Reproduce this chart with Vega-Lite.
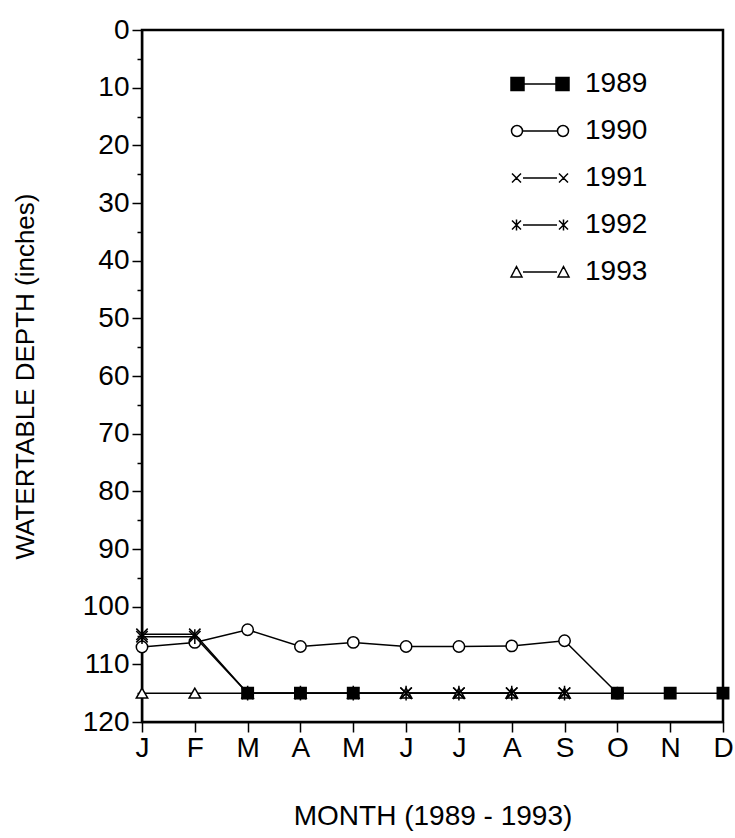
{
  "$schema": "https://vega.github.io/schema/vega-lite/v6.json",
  "width": 581,
  "height": 692,
  "autosize": {"type": "none"},
  "padding": {"left": 142, "top": 30, "right": 12, "bottom": 116},
  "background": "white",
  "config": {
    "font": "Liberation Sans",
    "view": {"stroke": "black", "strokeWidth": 2.5}
  },
  "data": {
    "values": [
      {"year": "1990", "month": 1, "depth": 107.0},
      {"year": "1990", "month": 2, "depth": 106.2},
      {"year": "1990", "month": 3, "depth": 104.0},
      {"year": "1990", "month": 4, "depth": 106.9},
      {"year": "1990", "month": 5, "depth": 106.2},
      {"year": "1990", "month": 6, "depth": 106.9},
      {"year": "1990", "month": 7, "depth": 106.9},
      {"year": "1990", "month": 8, "depth": 106.8},
      {"year": "1990", "month": 9, "depth": 105.9},
      {"year": "1990", "month": 10, "depth": 115},
      {"year": "1993", "month": 1, "depth": 115},
      {"year": "1993", "month": 2, "depth": 115},
      {"year": "1993", "month": 3, "depth": 115},
      {"year": "1993", "month": 4, "depth": 115},
      {"year": "1993", "month": 5, "depth": 115},
      {"year": "1993", "month": 6, "depth": 115},
      {"year": "1993", "month": 7, "depth": 115},
      {"year": "1993", "month": 8, "depth": 115},
      {"year": "1993", "month": 9, "depth": 115},
      {"year": "1991", "month": 1, "depth": 104.8},
      {"year": "1991", "month": 2, "depth": 104.8},
      {"year": "1991", "month": 3, "depth": 115},
      {"year": "1991", "month": 4, "depth": 115},
      {"year": "1991", "month": 5, "depth": 115},
      {"year": "1991", "month": 6, "depth": 115},
      {"year": "1991", "month": 7, "depth": 115},
      {"year": "1991", "month": 8, "depth": 115},
      {"year": "1991", "month": 9, "depth": 115},
      {"year": "1989", "month": 3, "depth": 115},
      {"year": "1989", "month": 4, "depth": 115},
      {"year": "1989", "month": 5, "depth": 115},
      {"year": "1989", "month": 10, "depth": 115},
      {"year": "1989", "month": 11, "depth": 115},
      {"year": "1989", "month": 12, "depth": 115},
      {"year": "1992", "month": 1, "depth": 105.2},
      {"year": "1992", "month": 2, "depth": 105.2},
      {"year": "1992", "month": 3, "depth": 115},
      {"year": "1992", "month": 4, "depth": 115},
      {"year": "1992", "month": 5, "depth": 115},
      {"year": "1992", "month": 6, "depth": 115},
      {"year": "1992", "month": 7, "depth": 115},
      {"year": "1992", "month": 8, "depth": 115},
      {"year": "1992", "month": 9, "depth": 115}
    ]
  },
  "encoding": {
    "x": {
      "field": "month",
      "type": "quantitative",
      "scale": {"domain": [1, 12], "nice": false, "zero": false},
      "axis": {
        "values": [1, 2, 3, 4, 5, 6, 7, 8, 9, 10, 11, 12],
        "labelExpr": "['J','F','M','A','M','J','J','A','S','O','N','D'][datum.value - 1]",
        "title": "MONTH (1989 - 1993)",
        "grid": false,
        "labelAngle": 0,
        "labelFontSize": 28,
        "labelColor": "black",
        "labelPadding": 2,
        "labelOverlap": false,
        "labelFlush": false,
        "tickSize": 10,
        "tickWidth": 1.5,
        "tickColor": "black",
        "domainColor": "black",
        "domainWidth": 1.5,
        "titleFontSize": 28,
        "titleFontWeight": "normal",
        "titleColor": "black",
        "titlePadding": 40
      }
    },
    "y": {
      "field": "depth",
      "type": "quantitative",
      "scale": {"domain": [0, 120], "reverse": true, "nice": false, "zero": true},
      "axis": {
        "values": [0, 5, 10, 15, 20, 25, 30, 35, 40, 45, 50, 55, 60, 65, 70, 75, 80, 85, 90, 95, 100, 105, 110, 115, 120],
        "labelExpr": "datum.value % 10 === 0 ? datum.label : ''",
        "tickSize": {"condition": {"test": "datum.value % 10 === 0", "value": 10}, "value": 5},
        "title": "WATERTABLE DEPTH (inches)",
        "grid": false,
        "labelFontSize": 28,
        "labelColor": "black",
        "labelPadding": 3,
        "labelOverlap": false,
        "labelFlush": false,
        "tickWidth": 1.5,
        "tickColor": "black",
        "domainColor": "black",
        "domainWidth": 1.5,
        "titleFontSize": 26,
        "titleFontWeight": "normal",
        "titleColor": "black",
        "titlePadding": 44
      }
    }
  },
  "layer": [
    {
      "mark": {"type": "line", "color": "black", "strokeWidth": 1.5},
      "encoding": {"detail": {"field": "year", "type": "nominal"}}
    },
    {
      "mark": {"type": "point", "stroke": "black", "strokeWidth": 1.5, "opacity": 1, "size": 130},
      "encoding": {
        "shape": {
          "field": "year",
          "type": "nominal",
          "scale": {
            "domain": ["1989", "1990", "1991", "1992", "1993"],
            "range": ["square", "circle", "M-1,-1L1,1M-1,1L1,-1", "M-1,-1L1,1M-1,1L1,-1M0,-1.3L0,1.3", "triangle-up"]
          },
          "legend": null
        },
        "fill": {
          "field": "year",
          "type": "nominal",
          "scale": {
            "domain": ["1989", "1990", "1991", "1992", "1993"],
            "range": ["black", "white", "white", "white", "white"]
          },
          "legend": null
        }
      }
    },
    {
      "mark": {"type": "point", "stroke": "black", "strokeWidth": 1.5, "opacity": 0},
      "encoding": {
        "shape": {
          "field": "year",
          "type": "nominal",
          "scale": {
            "domain": ["1989", "1990", "1991", "1992", "1993"],
            "range": [
              "M-2.9,-0.65H-1.6V0.65H-2.9Z M-1.6,0H1.6 M1.6,-0.65H2.9V0.65H1.6Z",
              "M-1.75,0A0.55,0.55 0 1,1 -2.85,0A0.55,0.55 0 1,1 -1.75,0Z M-1.75,0H1.75 M2.85,0A0.55,0.55 0 1,1 1.75,0A0.55,0.55 0 1,1 2.85,0Z",
              "M-2.8,-0.45L-1.9,0.45M-2.8,0.45L-1.9,-0.45M-1.7,0H1.7M1.9,-0.45L2.8,0.45M1.9,0.45L2.8,-0.45",
              "M-2.8,-0.45L-1.9,0.45M-2.8,0.45L-1.9,-0.45M-2.35,-0.55V0.55M-1.7,0H1.7M1.9,-0.45L2.8,0.45M1.9,0.45L2.8,-0.45M2.35,-0.55V0.55",
              "M-2.9,0.5L-2.35,-0.55L-1.8,0.5Z M-1.7,0H1.7 M1.8,0.5L2.35,-0.55L2.9,0.5Z"
            ]
          },
          "legend": {
            "title": null,
            "orient": "none",
            "legendX": 384,
            "legendY": 40,
            "padding": 0,
            "symbolSize": 400,
            "symbolStrokeWidth": 1.5,
            "symbolStrokeColor": "black",
            "symbolOpacity": 1,
            "labelFontSize": 28,
            "labelColor": "black",
            "labelOffset": 31,
            "rowPadding": 19,
            "labelLimit": 200,
            "encode": {
              "symbols": {
                "update": {
                  "stroke": {"value": "black"},
                  "strokeWidth": {"value": 1.5},
                  "opacity": {"value": 1},
                  "strokeOpacity": {"value": 1}
                }
              }
            }
          }
        },
        "fill": {
          "field": "year",
          "type": "nominal",
          "scale": {
            "domain": ["1989", "1990", "1991", "1992", "1993"],
            "range": ["black", "white", "white", "white", "white"]
          },
          "legend": {
            "title": null,
            "orient": "none",
            "legendX": 384,
            "legendY": 40,
            "padding": 0,
            "symbolSize": 400,
            "symbolStrokeWidth": 1.5,
            "symbolStrokeColor": "black",
            "symbolOpacity": 1,
            "labelFontSize": 28,
            "labelColor": "black",
            "labelOffset": 31,
            "rowPadding": 19,
            "labelLimit": 200,
            "encode": {
              "symbols": {
                "update": {
                  "stroke": {"value": "black"},
                  "strokeWidth": {"value": 1.5},
                  "opacity": {"value": 1},
                  "strokeOpacity": {"value": 1}
                }
              }
            }
          }
        }
      }
    }
  ],
  "resolve": {
    "scale": {"shape": "independent", "fill": "independent"},
    "legend": {"shape": "independent", "fill": "independent"}
  }
}
